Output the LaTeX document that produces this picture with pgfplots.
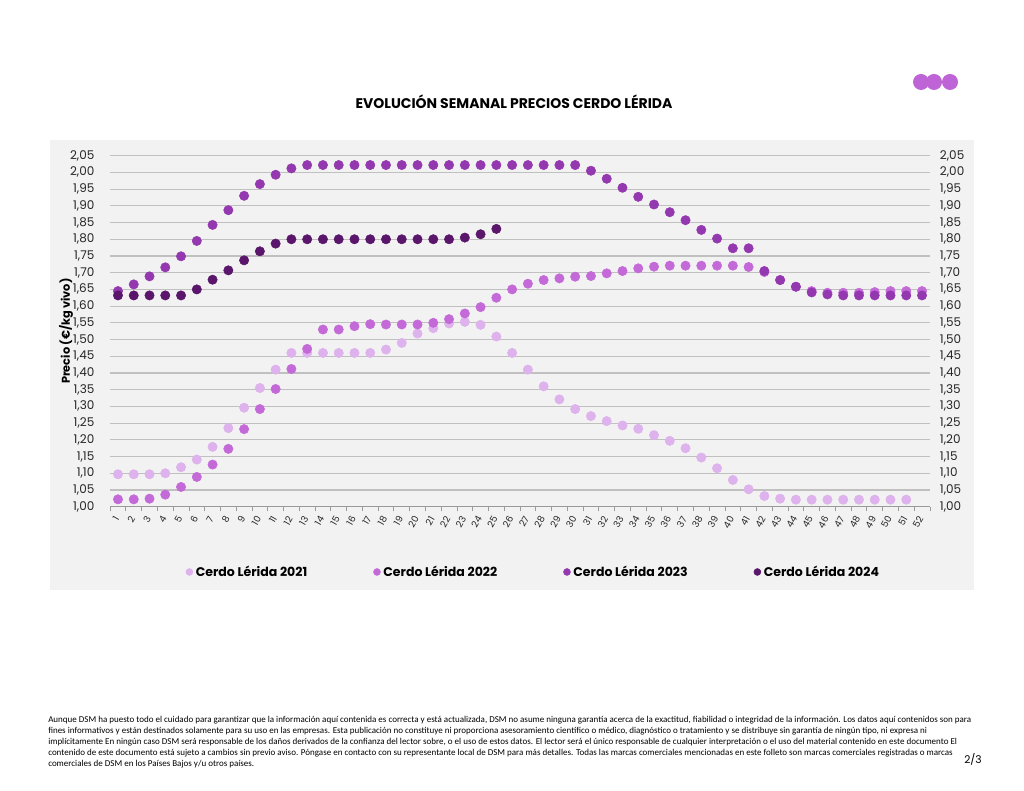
\documentclass[border=0pt]{standalone}
\usepackage{fontspec}
\setmainfont{Poppins}
\newfontfamily\footfont{Carlito}
\usepackage{pgfplots}
\pgfplotsset{compat=1.18}
\usepackage{pgfplotstable}

\definecolor{panel}{RGB}{242,242,242}
\definecolor{gridc}{RGB}{192,192,192}
\definecolor{c21}{RGB}{222,178,236}
\definecolor{c22}{RGB}{196,106,216}
\definecolor{c23}{RGB}{148,56,176}
\definecolor{c24}{RGB}{90,22,106}
\definecolor{logo}{RGB}{190,100,215}

% semana / precio (EUR/kg vivo)
\pgfplotstableread{
w p
1 1.097
2 1.097
3 1.097
4 1.100
5 1.118
6 1.141
7 1.179
8 1.235
9 1.296
10 1.355
11 1.410
12 1.460
13 1.460
14 1.460
15 1.460
16 1.460
17 1.460
18 1.470
19 1.490
20 1.518
21 1.534
22 1.548
23 1.553
24 1.544
25 1.509
26 1.460
27 1.410
28 1.360
29 1.321
30 1.292
31 1.271
32 1.256
33 1.243
34 1.233
35 1.214
36 1.197
37 1.175
38 1.147
39 1.115
40 1.080
41 1.052
42 1.032
43 1.024
44 1.021
45 1.021
46 1.021
47 1.021
48 1.021
49 1.021
50 1.021
51 1.021
}\dataA

\pgfplotstableread{
w p
1 1.022
2 1.022
3 1.024
4 1.036
5 1.059
6 1.089
7 1.126
8 1.173
9 1.232
10 1.292
11 1.352
12 1.412
13 1.472
14 1.530
15 1.530
16 1.540
17 1.546
18 1.545
19 1.545
20 1.545
21 1.550
22 1.561
23 1.578
24 1.597
25 1.625
26 1.650
27 1.667
28 1.678
29 1.683
30 1.688
31 1.690
32 1.698
33 1.705
34 1.713
35 1.718
36 1.721
37 1.721
38 1.721
39 1.721
40 1.721
41 1.717
42 1.702
43 1.678
44 1.658
45 1.645
46 1.640
47 1.640
48 1.640
49 1.642
50 1.645
51 1.645
52 1.645
}\dataB

\pgfplotstableread{
w p
1 1.645
2 1.665
3 1.689
4 1.716
5 1.749
6 1.795
7 1.843
8 1.887
9 1.930
10 1.965
11 1.993
12 2.012
13 2.022
14 2.022
15 2.022
16 2.022
17 2.022
18 2.022
19 2.022
20 2.022
21 2.022
22 2.022
23 2.022
24 2.022
25 2.022
26 2.022
27 2.022
28 2.022
29 2.022
30 2.022
31 2.005
32 1.981
33 1.954
34 1.927
35 1.904
36 1.881
37 1.857
38 1.828
39 1.802
40 1.773
41 1.773
42 1.705
43 1.678
44 1.658
45 1.641
46 1.635
47 1.632
48 1.632
49 1.632
50 1.632
51 1.632
52 1.632
}\dataC

\pgfplotstableread{
w p
1 1.632
2 1.632
3 1.632
4 1.632
5 1.632
6 1.650
7 1.679
8 1.707
9 1.737
10 1.764
11 1.787
12 1.800
13 1.800
14 1.800
15 1.800
16 1.800
17 1.800
18 1.800
19 1.800
20 1.800
21 1.800
22 1.800
23 1.805
24 1.815
25 1.831
}\dataD

\pgfplotsset{
  base/.style={
    scale only axis,
    width=614.85pt, height=263.25pt,
    at={(82.575pt,213.225pt)}, anchor=south west,
    xmin=0.5, xmax=52.5,
    ymin=1.00, ymax=2.05,
    ytick={1.00,1.05,...,2.06},
    /pgf/number format/.cd, use comma, fixed, fixed zerofill, precision=2,
    assume math mode=true,
    /pgfplots/.cd,
    yticklabel style={font=\fontsize{9}{10}\selectfont, text=black!85},
    major y tick style={draw=none},
  },
}

\begin{document}
\begin{tikzpicture}[x=0.75pt,y=0.75pt]
\path[use as bounding box] (0,0) rectangle (1024,791);
\fill[panel] (50,201) rectangle (974,651);

% logo
\fill[logo] (921,709) circle (8);
\fill[logo] (934,709) circle (8);
\fill[logo] (950,709) circle (8);

\node[font=\fontsize{10.5}{12}\selectfont\bfseries] at (514,689) {EVOLUCIÓN SEMANAL PRECIOS CERDO LÉRIDA};

\begin{axis}[
  base,
  axis x line*=bottom,
  axis y line*=left,
  y axis line style={draw=none},
  x axis line style={draw=gridc!80!black, line width=0.8pt},
  ymajorgrids,
  grid style={gridc, line width=0.8pt},
  xtick={1,...,52},
  xticklabel={\pgfmathprintnumber[fixed, precision=0, fixed zerofill=false]{\tick}},
  major x tick style={draw=none},
  minor xtick={0.5,1.5,...,52.5},
  minor x tick style={draw=gridc!80!black, line width=0.6pt},
  tick align=outside,
  minor tick length=3.5pt,
  xticklabel style={font=\fontsize{7}{8}\selectfont, rotate=60, anchor=east, text=black!85, yshift=-1pt},
  yticklabel style={xshift=-4pt},
  ylabel={\bfseries Precio (€/kg vivo)},
  ylabel style={font=\fontsize{8.5}{10}\selectfont, at={(rel axis cs:0,0.5)}, anchor=center, rotate=0, yshift=33pt},
  legend columns=4,
  legend style={at={(0.087,-0.186)}, anchor=west, draw=none, fill=none,
    font=\fontsize{9.4}{10}\selectfont\bfseries,
    /tikz/every even column/.append style={column sep=47.5pt}},
  legend cell align=left,
  every axis plot/.append style={only marks, mark=*, mark size=3.5pt},
  legend image code/.code={\fill[#1] (0pt,0pt) circle (2.6pt);},
]
\addplot[c21, mark options={draw=c21, fill=c21}] table[x=w, y=p] {\dataA};
\addlegendentry{Cerdo Lérida 2021}
\addplot[c22, mark options={draw=c22, fill=c22}] table[x=w, y=p] {\dataB};
\addlegendentry{Cerdo Lérida 2022}
\addplot[c23, mark options={draw=c23, fill=c23}] table[x=w, y=p] {\dataC};
\addlegendentry{Cerdo Lérida 2023}
\addplot[c24, mark options={draw=c24, fill=c24}] table[x=w, y=p] {\dataD};
\addlegendentry{Cerdo Lérida 2024}
\end{axis}

\begin{axis}[
  base,
  axis x line=none,
  axis y line*=right,
  y axis line style={draw=none},
  yticklabel style={xshift=4pt},
]
\addplot[draw=none] coordinates {(1,1.5)};
\end{axis}

\node[anchor=north west, align=left, inner sep=0pt,
      font=\footfont\fontsize{6.75}{8.25}\selectfont] at (48,75) {%
Aunque DSM ha puesto todo el cuidado para garantizar que la información aquí contenida es correcta y está actualizada, DSM no asume ninguna garantía acerca de la exactitud, fiabilidad o integridad de la información. Los datos aquí contenidos son para\\
fines informativos y están destinados solamente para su uso en las empresas. Esta publicación no constituye ni proporciona asesoramiento científico o médico, diagnóstico o tratamiento y se distribuye sin garantía de ningún tipo, ni expresa ni\\
implícitamente En ningún caso DSM será responsable de los daños derivados de la confianza del lector sobre, o el uso de estos datos. El lector será el único responsable de cualquier interpretación o el uso del material contenido en este documento El\\
contenido de este documento está sujeto a cambios sin previo aviso. Póngase en contacto con su representante local de DSM para más detalles. Todas las marcas comerciales mencionadas en este folleto son marcas comerciales registradas o marcas\\
comerciales de DSM en los Países Bajos y/u otros países.};

\node[anchor=east, inner sep=0pt, font=\fontsize{8}{9}\selectfont] at (982,32) {2/3};
\end{tikzpicture}
\end{document}
